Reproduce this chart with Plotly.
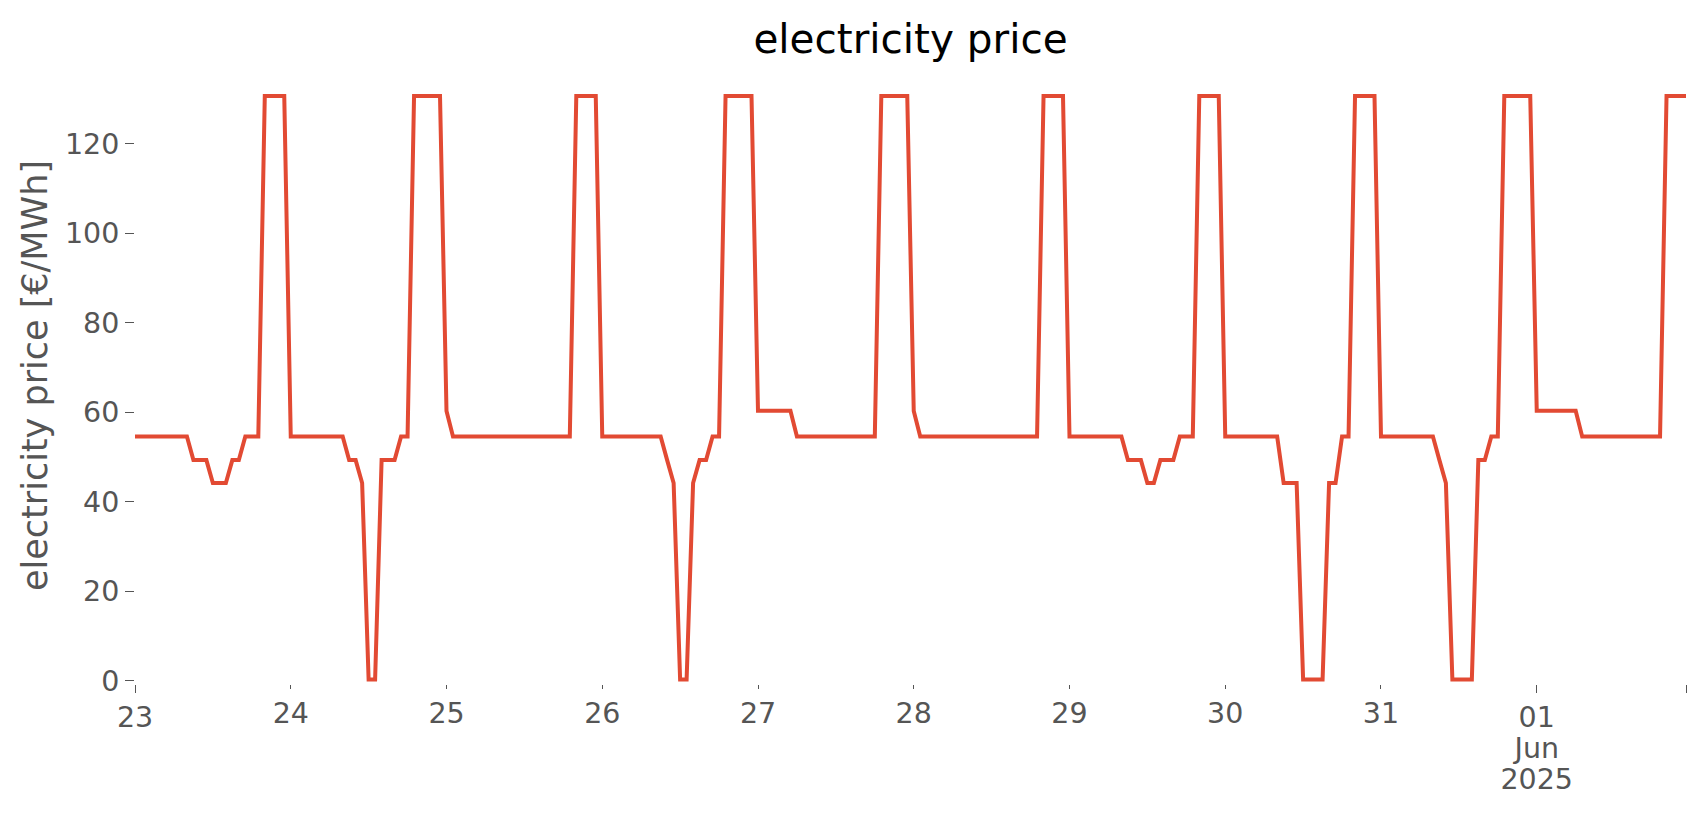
import pandas as pd
import plotly.graph_objects as go

# hourly electricity price [€/MWh], one list per day
may23 = [54.6]*9 + [49.3]*3 + [44.2]*3 + [49.3]*2 + [54.6]*3 + [130.6]*4
may24 = [54.6]*9 + [49.3]*2 + [44.2] + [0.3]*2 + [49.3]*3 + [54.6]*2 + [130.6]*5
may25 = [60.3] + [54.6]*19 + [130.6]*4
may26 = [54.6]*10 + [49.3] + [44.2] + [0.3]*2 + [44.2] + [49.3]*2 + [54.6]*2 + [130.6]*5
may27 = [60.3]*6 + [54.6]*13 + [130.6]*5
may28 = [60.3] + [54.6]*19 + [130.6]*4
may29 = [54.6]*9 + [49.3]*3 + [44.2]*2 + [49.3]*3 + [54.6]*3 + [130.6]*4
may30 = [54.6]*9 + [44.2]*3 + [0.3]*4 + [44.2]*2 + [54.6]*2 + [130.6]*4
may31 = [54.6]*9 + [49.3] + [44.2] + [0.3]*4 + [49.3]*2 + [54.6]*2 + [130.6]*5
jun01 = [60.3]*7 + [54.6]*13 + [130.6]*4

prices = may23 + may24 + may25 + may26 + may27 + may28 + may29 + may30 + may31 + jun01
times = pd.date_range("2025-05-23 00:00", periods=len(prices), freq="h")

minor_days = pd.date_range("2025-05-24", "2025-05-31", freq="D")
minor_labels = [d.strftime("%d") for d in minor_days]
major_ticks = [pd.Timestamp("2025-05-23"), pd.Timestamp("2025-06-01"), times[-1]]
major_labels = ["23", "01", ""]
month_label = "Jun"
year_label = "2025"
y_ticks = [0, 20, 40, 60, 80, 100, 120]

GREY = "#555555"
FONT = "DejaVu Sans"
TICKFONT = dict(family=FONT, size=28.5, color=GREY)


def xax(vals, texts, ticklen, tickcolor):
    return dict(type="date", overlaying="x", matches="x", anchor="y", side="bottom",
                automargin=False, tickmode="array", tickvals=vals, ticktext=texts,
                ticks="outside", ticklen=ticklen, tickwidth=1.4, tickcolor=tickcolor,
                tickfont=TICKFONT, showgrid=False, zeroline=False, showline=False)


fig = go.Figure()
fig.add_trace(go.Scatter(x=times, y=prices, mode="lines",
                         line=dict(color="#E24A33", width=4), showlegend=False))
for ax in ["x2", "x3", "x4"]:
    fig.add_trace(go.Scatter(x=[times[0]], y=[None], xaxis=ax, mode="lines",
                             showlegend=False, hoverinfo="skip"))

fig.update_layout(
    width=1706, height=815,
    margin=dict(l=127, r=28, t=59, b=139, autoexpand=False),
    paper_bgcolor="white", plot_bgcolor="white",
    font=dict(family=FONT, color=GREY),
    title=dict(text="electricity price", x=0.5, xref="paper", xanchor="center",
               y=1 - 31 / 815, yref="container", yanchor="middle",
               font=dict(family=FONT, size=40.5, color="black")),
    xaxis=dict(type="date", range=[times[0], times[-1]], automargin=False,
               tickmode="array", tickvals=list(minor_days), ticktext=minor_labels,
               ticks="outside", ticklen=4, tickwidth=1.4, tickcolor=GREY,
               tickfont=TICKFONT, showgrid=False, zeroline=False, showline=False),
    xaxis2=xax(major_ticks, major_labels, 8, GREY),
    xaxis3=xax([pd.Timestamp("2025-06-01")], [month_label], 39, "rgba(0,0,0,0)"),
    xaxis4=xax([pd.Timestamp("2025-06-01")], [year_label], 70, "rgba(0,0,0,0)"),
    yaxis=dict(range=[-0.7, 137.1], tickmode="array", tickvals=y_ticks, automargin=False,
               ticks="outside", ticklen=9, tickwidth=1.4, tickcolor=GREY,
               tickfont=TICKFONT, showgrid=False, zeroline=False, showline=False,
               title=dict(text="electricity price [€/MWh]", standoff=6,
                          font=dict(family=FONT, size=35, color=GREY))),
)

fig.write_html("out.html")
